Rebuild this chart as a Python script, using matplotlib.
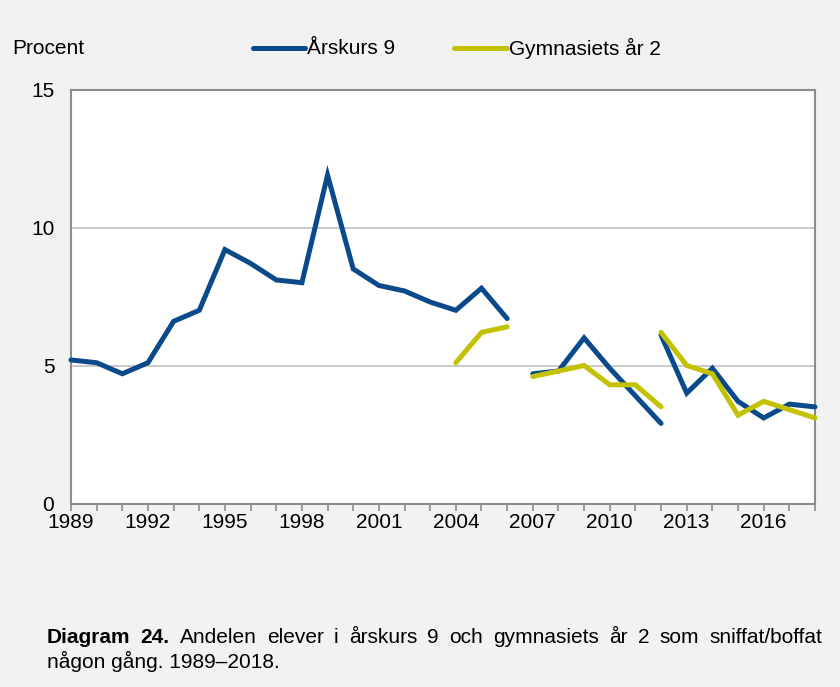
import numpy as np
import matplotlib
matplotlib.use("Agg")
import matplotlib.pyplot as plt
from matplotlib.lines import Line2D

plt.rcParams['font.family'] = ['Liberation Sans', 'DejaVu Sans']

# Data (old method up to 2012, new method from 2012)
years_a = [1989, 1990, 1991, 1992, 1993, 1994, 1995, 1996, 1997, 1998, 1999, 2000,
           2001, 2002, 2003, 2004, 2005, 2006]
ak9_a = [5.2, 5.1, 4.7, 5.1, 6.6, 7.0, 9.2, 8.7, 8.1, 8.0, 11.9, 8.5,
         7.9, 7.7, 7.3, 7.0, 7.8, 6.7]
years_g_a = [2004, 2005, 2006]
gym_a = [5.1, 6.2, 6.4]

years_b = [2007, 2008, 2009, 2010, 2011, 2012]
ak9_b = [4.7, 4.8, 6.0, 4.9, 3.9, 2.9]
gym_b = [4.6, 4.8, 5.0, 4.3, 4.3, 3.5]

years_c = [2012, 2013, 2014, 2015, 2016, 2017, 2018]
ak9_c = [6.1, 4.0, 4.9, 3.7, 3.1, 3.6, 3.5]
gym_c = [6.2, 5.0, 4.7, 3.2, 3.7, 3.4, 3.1]

series_names = ['Årskurs 9', 'Gymnasiets år 2']
xtick_labels = ['1989', '1992', '1995', '1998', '2001', '2004', '2007', '2010', '2013', '2016']
yticks = [0, 5, 10, 15]

BLUE = '#0a4a8a'
YEL = '#c2c200'
BG = '#f2f2f2'
GRID = '#c0c0c0'
SPINE = '#8c8c8c'
FS = 15

W, H = 840, 687
fig = plt.figure(figsize=(8.4, 6.87), dpi=100, facecolor=BG)
ax = fig.add_axes([71/W, 1 - 503.5/H, (815-71)/W, (503.5-89.5)/H])
ax.set_facecolor('white')

lw = 3.6
kw = dict(solid_capstyle='round', solid_joinstyle='miter', clip_on=False)
ax.plot(years_a, ak9_a, color=BLUE, lw=lw, zorder=3, **kw)
ax.plot(years_g_a, gym_a, color=YEL, lw=lw, zorder=3, **kw)
ax.plot(years_b, ak9_b, color=BLUE, lw=lw, zorder=3, **kw)
ax.plot(years_b, gym_b, color=YEL, lw=lw, zorder=4, **kw)
ax.plot(years_c, ak9_c, color=BLUE, lw=lw, zorder=3, **kw)
ax.plot(years_c, gym_c, color=YEL, lw=lw, zorder=4, **kw)

ax.set_xlim(1989, 2018)
ax.set_ylim(0, 15)
ax.set_yticks(yticks)
ax.set_yticklabels([str(v) for v in yticks], fontsize=FS)
ax.tick_params(axis='y', length=0, pad=12)
for v in yticks[1:-1]:
    ax.axhline(v, color=GRID, lw=1.2, zorder=1)

ax.set_xticks(np.arange(1989, 2019))
ax.set_xticklabels([str(y) if str(y) in xtick_labels else '' for y in range(1989, 2019)],
                   fontsize=FS)
ax.tick_params(axis='x', length=5, width=1.2, color=SPINE, direction='out', pad=2)

for s in ax.spines.values():
    s.set_color(SPINE)
    s.set_linewidth(1.5)

# Header: unit label and legend
yh = 1 - 48/H
fig.text(12/W, yh, 'Procent', fontsize=FS, va='center', ha='left')
for (lx0, lx1, tx), col, name in zip([(253, 305, 307), (454, 507, 509)], [BLUE, YEL], series_names):
    fig.add_artist(Line2D([lx0/W, lx1/W], [yh, yh], color=col, lw=lw,
                          solid_capstyle='round', transform=fig.transFigure))
    fig.text(tx/W, yh, name, fontsize=FS, va='center', ha='left')

# Caption (justified first line)
fig.canvas.draw()
renderer = fig.canvas.get_renderer()
line1 = [('Diagram', 'bold'), ('24.', 'bold'), ('Andelen', 'normal'), ('elever', 'normal'),
         ('i', 'normal'), ('årskurs', 'normal'), ('9', 'normal'), ('och', 'normal'),
         ('gymnasiets', 'normal'), ('år', 'normal'), ('2', 'normal'), ('som', 'normal'),
         ('sniffat/boffat', 'normal')]
x0, x1 = 47, 822
texts, widths = [], []
for w, fw in line1:
    t = fig.text(0, 0, w, fontsize=FS, fontweight=fw, ha='left', va='baseline')
    bb = t.get_window_extent(renderer)
    texts.append(t)
    widths.append(bb.width)
gap = (x1 - x0 - sum(widths)) / (len(widths) - 1)
x = x0
for t, wdt in zip(texts, widths):
    t.set_position((x/W, (H - 643)/H))
    x += wdt + gap
fig.text(47/W, (H - 668)/H, 'någon gång. 1989–2018.', fontsize=FS,
         ha='left', va='baseline')

fig.savefig('out.png', dpi=100, facecolor=BG)
